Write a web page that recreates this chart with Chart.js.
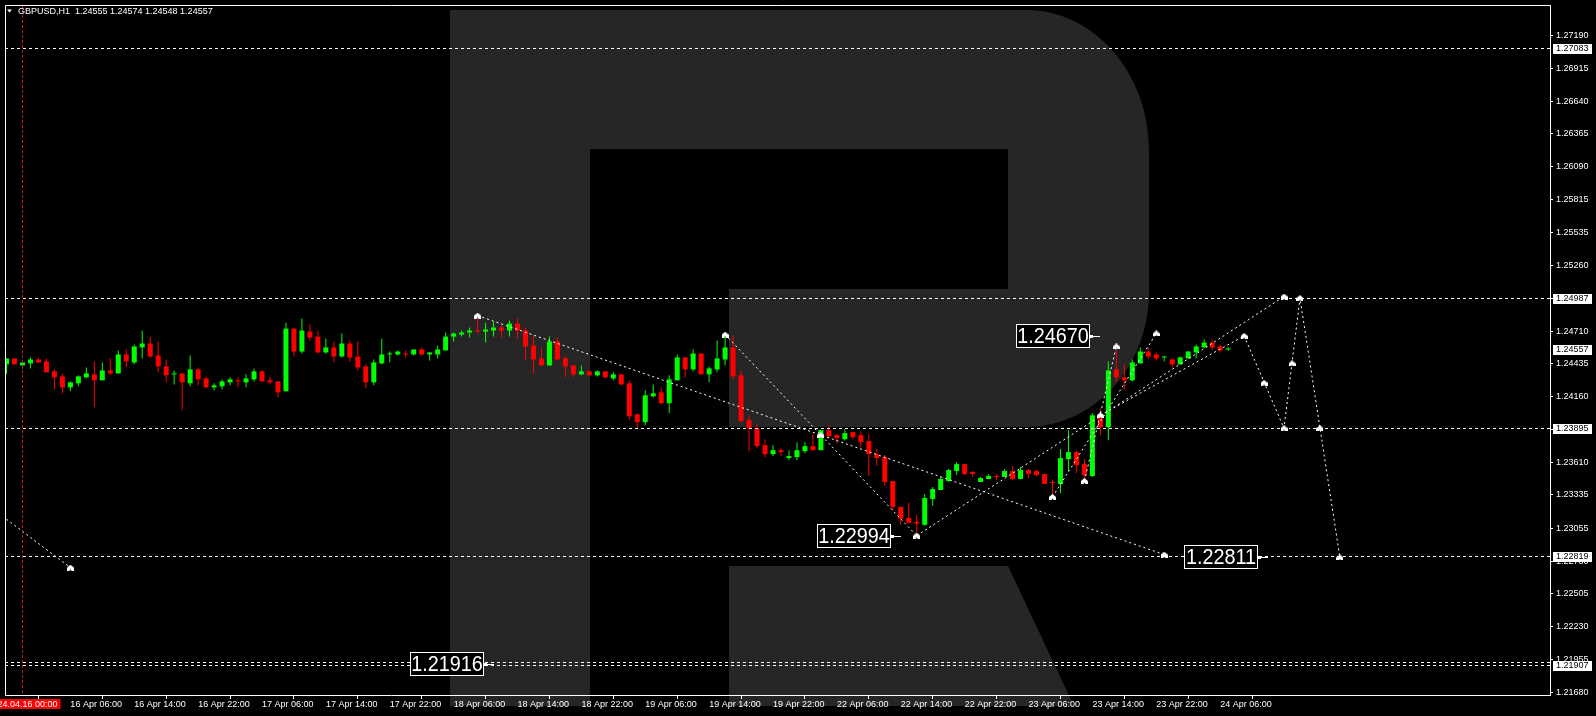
<!DOCTYPE html>
<html>
<head>
<meta charset="utf-8">
<script src="https://cdn.jsdelivr.net/npm/chart.js@4.4.1/dist/chart.umd.min.js"></script>
<style>
  html, body { margin: 0; padding: 0; background: #000; overflow: hidden; }
</style>
</head>
<body>
<canvas id="chart" width="1596" height="716"></canvas>
<script>
// GBPUSD H1 candles, bar 0 = 15 Apr 22:00
const chartTitle = 'GBPUSD,H1  1.24555 1.24574 1.24548 1.24557';

const openPrices = [
  1.24431, 1.24481, 1.24422, 1.24439, 1.24472, 1.24456, 1.24372, 1.24330, 1.24238, 1.24272,
  1.24322, 1.24347, 1.24297, 1.24380, 1.24355, 1.24514, 1.24447, 1.24573, 1.24606, 1.24506,
  1.24414, 1.24347, 1.24355, 1.24272, 1.24389, 1.24313, 1.24238, 1.24247, 1.24280, 1.24297,
  1.24280, 1.24305, 1.24372, 1.24297, 1.24288, 1.24205, 1.24731, 1.24539, 1.24706, 1.24664,
  1.24531, 1.24573, 1.24497, 1.24606, 1.24497, 1.24414, 1.24280, 1.24439, 1.24514, 1.24514,
  1.24522, 1.24514, 1.24556, 1.24514, 1.24514, 1.24548, 1.24664, 1.24681, 1.24698, 1.24715,
  1.24706, 1.24715, 1.24740, 1.24715, 1.24773, 1.24715, 1.24589, 1.24481, 1.24422, 1.24623,
  1.24481, 1.24422, 1.24347, 1.24372, 1.24339, 1.24372, 1.24313, 1.24347, 1.24272, 1.24012,
  1.23946, 1.24163, 1.24196, 1.24105, 1.24297, 1.24489, 1.24389, 1.24522, 1.24347, 1.24389,
  1.24472, 1.24573, 1.24339, 1.23962, 1.23895, 1.23753, 1.23678, 1.23711, 1.23645, 1.23653,
  1.23703, 1.23745, 1.23711, 1.23879, 1.23837, 1.23803, 1.23862, 1.23837, 1.23787, 1.23678,
  1.23653, 1.23452, 1.23236, 1.23144, 1.23110, 1.23085, 1.23302, 1.23377, 1.23452, 1.23536,
  1.23594, 1.23528, 1.23444, 1.23469, 1.23494, 1.23486, 1.23536, 1.23469, 1.23544, 1.23536,
  1.23511, 1.23444, 1.23427, 1.23636, 1.23695, 1.23594, 1.23494, 1.23987, 1.23904, 1.24389,
  1.24322, 1.24297, 1.24439, 1.24539, 1.24514, 1.24489, 1.24472, 1.24431, 1.24481, 1.24531,
  1.24573, 1.24614, 1.24581, 1.24555
];
const highPrices = [
  1.24481, 1.24481, 1.24447, 1.24489, 1.24489, 1.24481, 1.24389, 1.24355, 1.24288, 1.24339,
  1.24405, 1.24456, 1.24447, 1.24481, 1.24548, 1.24556, 1.24598, 1.24715, 1.24664, 1.24623,
  1.24472, 1.24380, 1.24355, 1.24506, 1.24405, 1.24330, 1.24272, 1.24305, 1.24322, 1.24322,
  1.24347, 1.24397, 1.24380, 1.24330, 1.24288, 1.24781, 1.24731, 1.24815, 1.24765, 1.24715,
  1.24648, 1.24623, 1.24690, 1.24631, 1.24623, 1.24431, 1.24472, 1.24648, 1.24539, 1.24548,
  1.24548, 1.24556, 1.24573, 1.24531, 1.24589, 1.24698, 1.24698, 1.24715, 1.24740, 1.24823,
  1.24781, 1.24790, 1.24756, 1.24798, 1.24815, 1.24740, 1.24673, 1.24573, 1.24664, 1.24656,
  1.24497, 1.24422, 1.24422, 1.24380, 1.24380, 1.24372, 1.24364, 1.24355, 1.24297, 1.24021,
  1.24213, 1.24263, 1.24238, 1.24339, 1.24514, 1.24489, 1.24556, 1.24522, 1.24414, 1.24631,
  1.24664, 1.24673, 1.24380, 1.24004, 1.23929, 1.23803, 1.23753, 1.23728, 1.23711, 1.23778,
  1.23778, 1.23845, 1.23879, 1.23920, 1.23845, 1.23887, 1.23862, 1.23870, 1.23845, 1.23720,
  1.23670, 1.23452, 1.23236, 1.23269, 1.23169, 1.23344, 1.23402, 1.23486, 1.23553, 1.23611,
  1.23594, 1.23536, 1.23486, 1.23511, 1.23511, 1.23553, 1.23578, 1.23569, 1.23553, 1.23544,
  1.23511, 1.23461, 1.23720, 1.23879, 1.23711, 1.23636, 1.24021, 1.24063, 1.24456, 1.24556,
  1.24431, 1.24472, 1.24573, 1.24573, 1.24531, 1.24497, 1.24481, 1.24497, 1.24539, 1.24598,
  1.24639, 1.24639, 1.24598, 1.24574
];
const lowPrices = [
  1.24347, 1.24431, 1.24397, 1.24397, 1.24447, 1.24364, 1.24221, 1.24188, 1.24205, 1.24247,
  1.24313, 1.24071, 1.24297, 1.24339, 1.24355, 1.24405, 1.24431, 1.24481, 1.24489, 1.24364,
  1.24280, 1.24263, 1.24046, 1.24247, 1.24255, 1.24230, 1.24213, 1.24221, 1.24255, 1.24238,
  1.24238, 1.24288, 1.24288, 1.24263, 1.24155, 1.24205, 1.24497, 1.24522, 1.24631, 1.24522,
  1.24522, 1.24447, 1.24489, 1.24456, 1.24380, 1.24230, 1.24255, 1.24431, 1.24447, 1.24506,
  1.24489, 1.24506, 1.24506, 1.24464, 1.24481, 1.24548, 1.24623, 1.24664, 1.24656, 1.24690,
  1.24614, 1.24664, 1.24656, 1.24664, 1.24648, 1.24464, 1.24355, 1.24422, 1.24422, 1.24464,
  1.24322, 1.24322, 1.24339, 1.24339, 1.24330, 1.24313, 1.24297, 1.24255, 1.23962, 1.23887,
  1.23920, 1.24155, 1.24096, 1.24021, 1.24297, 1.24322, 1.24372, 1.24347, 1.24280, 1.24364,
  1.24422, 1.24305, 1.23946, 1.23703, 1.23728, 1.23653, 1.23661, 1.23661, 1.23628, 1.23628,
  1.23686, 1.23711, 1.23711, 1.23812, 1.23770, 1.23795, 1.23803, 1.23736, 1.23494, 1.23578,
  1.23410, 1.23202, 1.23085, 1.23094, 1.23010, 1.23077, 1.23244, 1.23377, 1.23444, 1.23502,
  1.23502, 1.23486, 1.23444, 1.23469, 1.23461, 1.23486, 1.23461, 1.23469, 1.23477, 1.23494,
  1.23427, 1.23344, 1.23352, 1.23536, 1.23519, 1.23452, 1.23486, 1.23837, 1.23795, 1.24288,
  1.24221, 1.24288, 1.24439, 1.24481, 1.24464, 1.24456, 1.24405, 1.24431, 1.24481, 1.24481,
  1.24573, 1.24556, 1.24531, 1.24548
];
const closePrices = [
  1.24481, 1.24431, 1.24447, 1.24472, 1.24447, 1.24364, 1.24322, 1.24238, 1.24280, 1.24330,
  1.24355, 1.24297, 1.24380, 1.24355, 1.24514, 1.24456, 1.24581, 1.24606, 1.24497, 1.24414,
  1.24339, 1.24347, 1.24280, 1.24389, 1.24305, 1.24238, 1.24255, 1.24288, 1.24305, 1.24288,
  1.24313, 1.24372, 1.24288, 1.24280, 1.24196, 1.24731, 1.24539, 1.24715, 1.24656, 1.24531,
  1.24573, 1.24497, 1.24606, 1.24489, 1.24405, 1.24280, 1.24447, 1.24514, 1.24522, 1.24539,
  1.24514, 1.24556, 1.24514, 1.24531, 1.24556, 1.24664, 1.24690, 1.24698, 1.24715, 1.24706,
  1.24723, 1.24740, 1.24715, 1.24773, 1.24715, 1.24581, 1.24472, 1.24422, 1.24623, 1.24472,
  1.24414, 1.24347, 1.24372, 1.24339, 1.24372, 1.24322, 1.24347, 1.24263, 1.23996, 1.23946,
  1.24171, 1.24188, 1.24105, 1.24305, 1.24489, 1.24389, 1.24522, 1.24347, 1.24397, 1.24481,
  1.24573, 1.24330, 1.23954, 1.23895, 1.23745, 1.23678, 1.23711, 1.23695, 1.23661, 1.23711,
  1.23745, 1.23711, 1.23879, 1.23828, 1.23812, 1.23854, 1.23820, 1.23778, 1.23678, 1.23645,
  1.23444, 1.23236, 1.23135, 1.23102, 1.23094, 1.23310, 1.23385, 1.23469, 1.23544, 1.23594,
  1.23511, 1.23511, 1.23477, 1.23494, 1.23486, 1.23536, 1.23469, 1.23544, 1.23511, 1.23502,
  1.23427, 1.23436, 1.23645, 1.23695, 1.23586, 1.23502, 1.24004, 1.23904, 1.24380, 1.24322,
  1.24297, 1.24447, 1.24539, 1.24497, 1.24481, 1.24497, 1.24431, 1.24489, 1.24539, 1.24581,
  1.24614, 1.24573, 1.24548, 1.24557
];

// time axis: one label every 8 bars starting at bar 0
const tickStep = 8;
const timeLabels = [
  '15 Apr 22:00', '16 Apr 06:00', '16 Apr 14:00', '16 Apr 22:00', '17 Apr 06:00',
  '17 Apr 14:00', '17 Apr 22:00', '18 Apr 06:00', '18 Apr 14:00', '18 Apr 22:00',
  '19 Apr 06:00', '19 Apr 14:00', '19 Apr 22:00', '22 Apr 06:00', '22 Apr 14:00',
  '22 Apr 22:00', '23 Apr 06:00', '23 Apr 14:00', '23 Apr 22:00', '24 Apr 06:00'
];
const sessionBar = 2;
const sessionLabel = '2024.04.16 00:00';

const priceTicks = [
  1.27190, 1.26915, 1.26640, 1.26365, 1.26090, 1.25815, 1.25535, 1.25260, 1.24985, 1.24710,
  1.24435, 1.24160, 1.23885, 1.23610, 1.23335, 1.23055, 1.22780, 1.22505, 1.22230, 1.21955, 1.21680
];
const yMin = 1.21657, yMax = 1.27446;
const xMin = -0.1875, xMax = 193.3125;

// horizontal levels and the boxed values on the price axis
const levelLines = [1.27083, 1.24987, 1.23895, 1.22819, 1.21927, 1.21907];
const axisBoxes = [1.27083, 1.24987, 1.24557, 1.23895, 1.22819, 1.21907];

// forecast zigzags (bar index, price)
const pathBars = [[-10, 8], [59, 145], [90, 114], [114, 160], [131, 144], [135, 139], [137, 155], [155, 160, 162, 167]];
const pathPrices = [
  [1.23638, 1.22726], [1.24840, 1.22835], [1.24681, 1.22994], [1.22994, 1.25000],
  [1.23319, 1.24690], [1.23452, 1.24581], [1.24004, 1.24670], [1.24670, 1.23895, 1.24987, 1.22811]
];
const markBars = [8, 59, 90, 102, 114, 131, 135, 137, 139, 144, 145, 155, 157.5, 160, 160, 161, 162, 164.5, 167];
const markPrices = [1.22726, 1.24840, 1.24681, 1.23837, 1.22994, 1.23319, 1.23452, 1.24004, 1.24581, 1.24690,
  1.22835, 1.24670, 1.24276, 1.25000, 1.23895, 1.24439, 1.24987, 1.23895, 1.22811];

// boxed price notes, pointer at bar index
const noteValues = [1.24670, 1.22994, 1.22811, 1.21916];
const noteBars = [137, 112, 158, 61];

const bull = '#00ff00', bear = '#ff0000';
const FONT = '"Liberation Sans", Arial, sans-serif';

const idx = openPrices.map((_, i) => i);
const candleColors = idx.map(i => closePrices[i] >= openPrices[i] ? bull : bear);

// little arrow glyph used by the forecast points
const glyph = document.createElement('canvas');
glyph.width = 7; glyph.height = 6;
(function () {
  const g = glyph.getContext('2d');
  g.fillStyle = '#fff';
  g.beginPath();
  g.moveTo(3.5, 0); g.lineTo(7, 3); g.lineTo(7, 6); g.lineTo(4.5, 6);
  g.lineTo(3.5, 4.5); g.lineTo(2.5, 6); g.lineTo(0, 6); g.lineTo(0, 3);
  g.closePath(); g.fill();
})();

const datasets = [
  {
    type: 'bar', label: 'wicks', order: 3,
    data: idx.map(i => ({ x: i, y: [lowPrices[i], highPrices[i]] })),
    backgroundColor: candleColors, barThickness: 1, grouped: false,
    minBarLength: 1, inflateAmount: 0, borderWidth: 0
  },
  {
    type: 'bar', label: 'bodies', order: 2,
    data: idx.map(i => ({ x: i, y: [openPrices[i], closePrices[i]] })),
    backgroundColor: candleColors, barThickness: 5, grouped: false,
    minBarLength: 1, inflateAmount: 0, borderWidth: 0
  }
];

pathBars.forEach((bars, k) => {
  datasets.push({
    type: 'line', label: 'path' + k, order: 1,
    data: bars.map((b, j) => ({ x: b, y: pathPrices[k][j] })),
    borderColor: '#ffffff', borderWidth: 1, borderDash: [2, 3],
    pointRadius: 0, tension: 0, fill: false
  });
});

datasets.push({
  type: 'line', label: 'marks', order: 0, showLine: false,
  data: markBars.map((b, j) => ({ x: b, y: markPrices[j] })),
  pointStyle: glyph, pointRadius: 3
});

const decor = {
  id: 'decor',
  beforeDraw(chart) {
    const ctx = chart.ctx;
    ctx.save();
    ctx.fillStyle = '#000';
    ctx.fillRect(0, 0, chart.width, chart.height);
    // watermark letter
    ctx.fillStyle = '#262626';
    ctx.beginPath();
    ctx.moveTo(450, 10); ctx.lineTo(1026, 10);
    ctx.bezierCurveTo(1094, 10, 1149, 73, 1149, 150);
    ctx.lineTo(1149, 292);
    ctx.bezierCurveTo(1149, 367, 1094, 427, 1026, 427);
    ctx.lineTo(729, 427); ctx.lineTo(729, 289); ctx.lineTo(1008, 289); ctx.lineTo(1008, 149);
    ctx.lineTo(590, 149); ctx.lineTo(590, 706); ctx.lineTo(450, 706); ctx.closePath();
    ctx.moveTo(729, 566); ctx.lineTo(1008, 566); ctx.lineTo(1074, 706); ctx.lineTo(729, 706); ctx.closePath();
    ctx.fill();
    ctx.restore();
  },
  afterDatasetsDraw(chart) {
    const { ctx, chartArea: a, scales: { x, y } } = chart;
    ctx.save();
    ctx.beginPath();
    ctx.rect(a.left, a.top, a.right - a.left, a.bottom - a.top);
    ctx.clip();
    ctx.lineWidth = 1;
    ctx.strokeStyle = '#ffffff';
    ctx.setLineDash([3, 3]);
    levelLines.forEach(v => {
      const py = Math.floor(y.getPixelForValue(v)) + 0.5;
      ctx.beginPath(); ctx.moveTo(a.left, py); ctx.lineTo(a.right, py); ctx.stroke();
    });
    const sx = Math.floor(x.getPixelForValue(sessionBar)) + 0.5;
    ctx.strokeStyle = '#d01818';
    ctx.setLineDash([3, 2]);
    ctx.beginPath(); ctx.moveTo(sx, a.top); ctx.lineTo(sx, a.bottom); ctx.stroke();
    ctx.restore();
  },
  afterDraw(chart) {
    const { ctx, chartArea: a, scales: { x, y } } = chart;
    ctx.save();
    // frame top/left
    ctx.strokeStyle = '#ffffff'; ctx.lineWidth = 1;
    ctx.beginPath();
    ctx.moveTo(a.left + 0.5, a.bottom); ctx.lineTo(a.left + 0.5, a.top + 0.5); ctx.lineTo(a.right, a.top + 0.5);
    ctx.stroke();

    // boxed values on price axis
    ctx.font = '9px ' + FONT;
    ctx.textAlign = 'left'; ctx.textBaseline = 'middle';
    axisBoxes.forEach(v => {
      const py = Math.floor(y.getPixelForValue(v));
      ctx.fillStyle = '#ffffff';
      ctx.fillRect(a.right + 3, py - 4, 39, 10);
      ctx.fillStyle = '#000000';
      ctx.fillText(v.toFixed(5), a.right + 6, py + 1);
    });

    // big price notes
    noteValues.forEach((v, k) => {
      const tip = Math.round(x.getPixelForValue(noteBars[k]));
      const py = Math.round(y.getPixelForValue(v));
      const right = tip - 10, w = 74, h = 24;
      ctx.fillStyle = '#000000';
      ctx.fillRect(right - w, py - 12, w, h);
      ctx.strokeStyle = '#ffffff';
      ctx.strokeRect(right - w + 0.5, py - 11.5, w - 1, h - 1);
      ctx.fillStyle = '#ffffff';
      ctx.fillRect(right, py - 1, 3, 3);
      ctx.fillRect(right + 3, py, 7, 1);
      ctx.save();
      ctx.translate(right - w / 2, py + 1);
      ctx.scale(0.9, 1);
      ctx.font = '22px ' + FONT;
      ctx.textAlign = 'center'; ctx.textBaseline = 'middle';
      ctx.fillText(v.toFixed(5), 0, 0);
      ctx.restore();
    });

    // session time box
    const sx = Math.floor(x.getPixelForValue(sessionBar)) + 0.5;
    ctx.fillStyle = '#ff0000';
    ctx.fillRect(sx - 38, a.bottom + 4, 76, 10);
    ctx.fillStyle = '#ffffff';
    ctx.font = '9px ' + FONT;
    ctx.textAlign = 'center'; ctx.textBaseline = 'middle';
    ctx.fillText(sessionLabel, sx, a.bottom + 9.5);

    // title
    ctx.beginPath();
    ctx.moveTo(7, 9.5); ctx.lineTo(12, 9.5); ctx.lineTo(9.5, 12.5); ctx.closePath();
    ctx.fill();
    ctx.textAlign = 'left';
    ctx.fillText(chartTitle, 18, 11.5);
    ctx.restore();
  }
};

Chart.defaults.font.family = FONT;

new Chart(document.getElementById('chart').getContext('2d'), {
  type: 'bar',
  data: { datasets: datasets },
  options: {
    responsive: false,
    devicePixelRatio: 1,
    animation: false,
    events: [],
    layout: { padding: { left: 2, top: 2, right: 0, bottom: 0 } },
    plugins: { legend: { display: false }, tooltip: { enabled: false } },
    scales: {
      x: {
        type: 'linear', position: 'bottom', min: xMin, max: xMax, offset: false,
        afterBuildTicks: s => { s.ticks = timeLabels.map((_, k) => ({ value: k * tickStep })); },
        afterFit: s => { s.height = 21; s.paddingLeft = 0; s.paddingRight = 0; },
        ticks: {
          autoSkip: false, maxRotation: 0, minRotation: 0, align: 'start', padding: 0,
          color: '#ffffff', font: { size: 9 },
          callback: (v, k) => timeLabels[k]
        },
        grid: { drawOnChartArea: false, color: '#ffffff', tickLength: 4 },
        border: { color: '#ffffff' }
      },
      y: {
        type: 'linear', position: 'right', min: yMin, max: yMax,
        afterBuildTicks: s => { s.ticks = priceTicks.map(v => ({ value: v })); },
        afterFit: s => { s.width = 46; s.paddingTop = 0; s.paddingBottom = 0; },
        ticks: {
          padding: 3, color: '#ffffff', font: { size: 9 },
          callback: v => Number(v).toFixed(5)
        },
        grid: { drawOnChartArea: false, color: '#ffffff', tickLength: 3 },
        border: { color: '#ffffff' }
      }
    }
  },
  plugins: [decor]
});
</script>
</body>
</html>
